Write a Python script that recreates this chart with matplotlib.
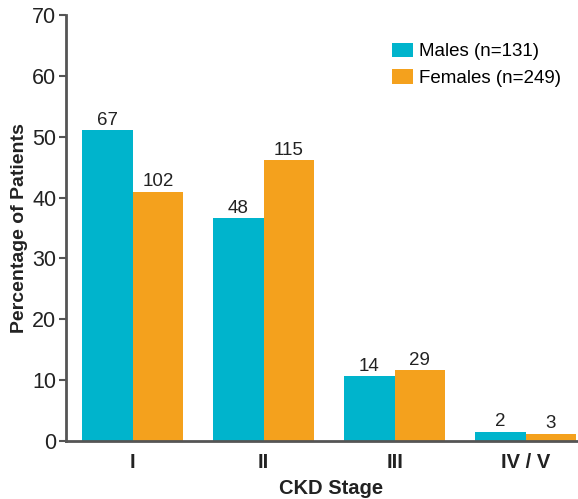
import numpy as np
import matplotlib.pyplot as plt

plt.rcParams['font.family'] = ['Liberation Sans', 'DejaVu Sans']

stages = ["I", "II", "III", "IV / V"]
males = [67, 48, 14, 2]
females = [102, 115, 29, 3]
n_males = 131
n_females = 249

male_color = "#00B4CC"
female_color = "#F4A11D"
spine_color = "#555555"
text_color = "#222222"

male_pct = np.array(males) / n_males * 100
female_pct = np.array(females) / n_females * 100

fig = plt.figure(figsize=(5.78, 4.99), dpi=100)
ax = fig.add_axes([66 / 578, 1 - 441 / 499, 1 - 66 / 578, 426 / 499])

x = np.arange(len(stages))
w = 0.385
b1 = ax.bar(x - w / 2, male_pct, w, color=male_color, label=f"Males (n={n_males})")
b2 = ax.bar(x + w / 2, female_pct, w, color=female_color, label=f"Females (n={n_females})")

# counts written over each bar
for bars, counts in ((b1, males), (b2, females)):
    for rect, c in zip(bars, counts):
        ax.text(rect.get_x() + rect.get_width() / 2, rect.get_height() + 0.2, str(c),
                ha="center", va="bottom", fontsize=13.5, color=text_color)

ax.set_xlim(-0.51, 3.40)
ax.set_ylim(0, 70)
ax.set_yticks(range(0, 71, 10))
ax.set_xticks(x)
ax.set_xticklabels(stages, fontsize=14.5, fontweight="bold")
ax.tick_params(axis="y", labelsize=15.5, length=5, width=1.5, color=spine_color, pad=2,
               labelcolor=text_color)
ax.tick_params(axis="x", length=0, pad=9, labelcolor=text_color)

for side in ("top", "right"):
    ax.spines[side].set_visible(False)
for side in ("left", "bottom"):
    ax.spines[side].set_color(spine_color)
    ax.spines[side].set_linewidth(2)

ax.set_xlabel("CKD Stage", fontsize=14.5, fontweight="bold", color=text_color)
ax.xaxis.set_label_coords(0.518, -0.09)
ax.set_ylabel("Percentage of Patients", fontsize=14, fontweight="bold", color=text_color)
ax.yaxis.set_label_coords(-0.074, 0.5)

ax.legend(loc="upper right", bbox_to_anchor=(1.0, 0.975), frameon=False, fontsize=13.5,
          handlelength=1.1, handleheight=0.85, handletextpad=0.35, labelspacing=0.45)

fig.savefig("out.png", dpi=100)
